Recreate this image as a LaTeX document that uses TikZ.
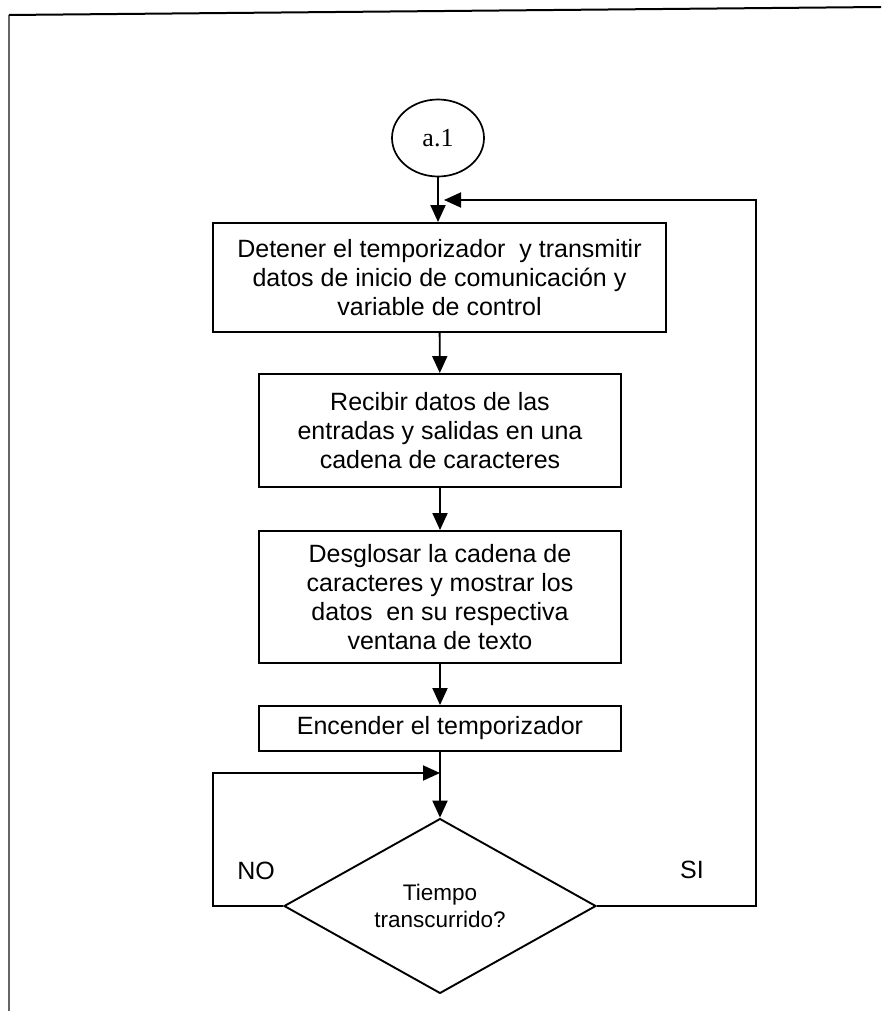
\documentclass[tikz,border=0pt]{standalone}
\usepackage{fontspec}
\setmainfont{Liberation Sans}
\newfontfamily\conectorfont{Liberation Serif}
\usepackage{tikz}
\usetikzlibrary{shapes.geometric,arrows.meta}

\tikzset{
  proceso/.style={draw, line width=1.9pt, align=center, inner sep=0pt,
    font=\fontsize{25}{29}\selectfont},
  decision/.style={draw, diamond, line width=1.9pt, align=center, inner sep=0pt,
    font=\fontsize{22.5}{27}\selectfont},
  conector/.style={draw, ellipse, line width=1.7pt, inner sep=0pt,
    font=\conectorfont\fontsize{26}{30}\selectfont},
  flujo/.style={->, line width=1.9pt},
  rama/.style={font=\fontsize{25}{29}\selectfont}
}

\begin{document}
\begin{tikzpicture}[x={(1pt,0pt)}, y={(0pt,-1pt)}, >={Triangle[length=17pt,width=15pt]}]
  \useasboundingbox (0,0) rectangle (881,1011);

  % 1. Marco de la hoja
  \draw[line width=2pt, black!60] (9,1011) -- (9,15);
  \draw[line width=2pt] (9,15) -- (881,7);

  % 2. Conector de entrada
  \node[conector, minimum width=92, minimum height=77] (inicio) at (438,138) {a.1};

  % 3. Bloques de proceso
  \node[proceso, minimum width=453, minimum height=109] (detener) at (439.5,277.5)
    {Detener el temporizador~ y transmitir\\datos de inicio de comunicación y\\variable de control};
  \node[proceso, minimum width=362, minimum height=113] (recibir) at (440,430.5)
    {Recibir datos de las\\entradas y salidas en una\\cadena de caracteres};
  \node[proceso, minimum width=362, minimum height=132] (desglosar) at (440,597)
    {Desglosar la cadena de\\caracteres y mostrar los\\datos~ en su respectiva\\ventana de texto};
  \node[proceso, minimum width=362, minimum height=45] (encender) at (440,728.5)
    {Encender el temporizador};

  % 4. Decision
  \node[decision, minimum width=312, minimum height=174] (tiempo) at (440,906)
    {Tiempo\\transcurrido?};

  % 5. Flujo principal
  \draw[flujo] (inicio.south) -- (inicio.south |- detener.north);
  \draw[flujo] (detener) -- (recibir);
  \draw[flujo] (recibir) -- (desglosar);
  \draw[flujo] (desglosar) -- (encender);
  \draw[flujo] (encender) -- (tiempo);

  % 6. Lazos de retorno (SI / NO)
  \coordinate (siEsq) at (756,200);
  \coordinate (siUnion) at (444,200);
  \draw[flujo] (tiempo.east) -| (siEsq) -- (siUnion);
  \node[rama] (si) at (692,870) {SI};

  \coordinate (noEsq) at (213,773);
  \coordinate (noUnion) at (440,773);
  \draw[flujo] (tiempo.west) -| (noEsq) -- (noUnion);
  \node[rama] (no) at (256,871) {NO};
\end{tikzpicture}
\end{document}
